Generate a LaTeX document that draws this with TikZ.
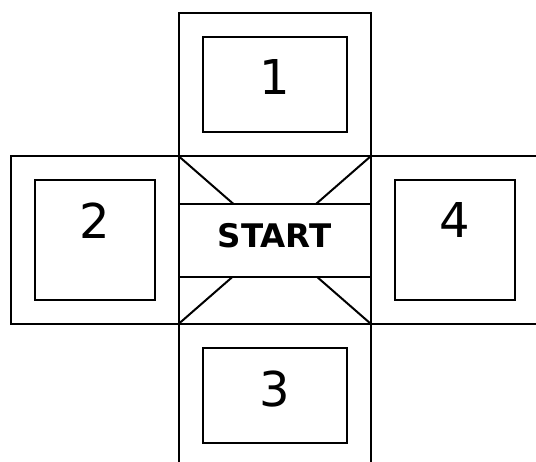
\documentclass[tikz,border=0pt]{standalone}
\usepackage{fontspec}
\setmainfont{DejaVu Sans}
\usetikzlibrary{positioning}

\begin{document}
\begin{tikzpicture}[
  x=1pt, y=1pt,
  every node/.style={inner sep=0pt, outer sep=0pt},
  wall/.style={draw, line width=2pt},
  vzone/.style={wall, minimum width=192.5pt, minimum height=143.3pt},
  hzone/.style={wall, minimum width=167.5pt, minimum height=168pt},
  vpad/.style={wall, minimum width=144.5pt, minimum height=95.3pt},
  hpad/.style={wall, minimum width=119.5pt, minimum height=120pt},
  band/.style={wall, fill=white, minimum width=192.5pt, minimum height=72.7pt},
  digit/.style={font=\fontsize{48}{58}\selectfont},
  word/.style={font=\fontsize{32.5}{39}\selectfont\bfseries},
]

% Frame
\useasboundingbox (0,0) rectangle (536,-461);
\clip (0,0) rectangle (536,-461);

% Centre square with the crossing lines
\node[wall, minimum width=192.5pt, minimum height=168pt] (hub) at (274.75,-240) {};
\draw[line width=2pt] (hub.north west) -- (hub.south east);
\draw[line width=2pt] (hub.north east) -- (hub.south west);

% Start band
\node[band] (start) at (274.75,-240.3) {};
\node[word] (starttext) at ([yshift=4.3pt]start.center) {START};

% Outer zones
\node[vzone, above=0pt of hub] (zone1) {};
\node[hzone, left=0pt of hub] (zone2) {};
\node[vzone, below=0pt of hub] (zone3) {};
\node[hzone, right=0pt of hub] (zone4) {};

% Inner pads
\node[vpad] (pad1) at (zone1) {};
\node[hpad] (pad2) at (zone2) {};
\node[vpad] (pad3) at (zone3) {};
\node[hpad] (pad4) at (zone4) {};

% Numbers
\foreach \i in {1,...,4}
  \node[digit, below=22.8pt of pad\i.north] (num\i) {\i};

\end{tikzpicture}
\end{document}
